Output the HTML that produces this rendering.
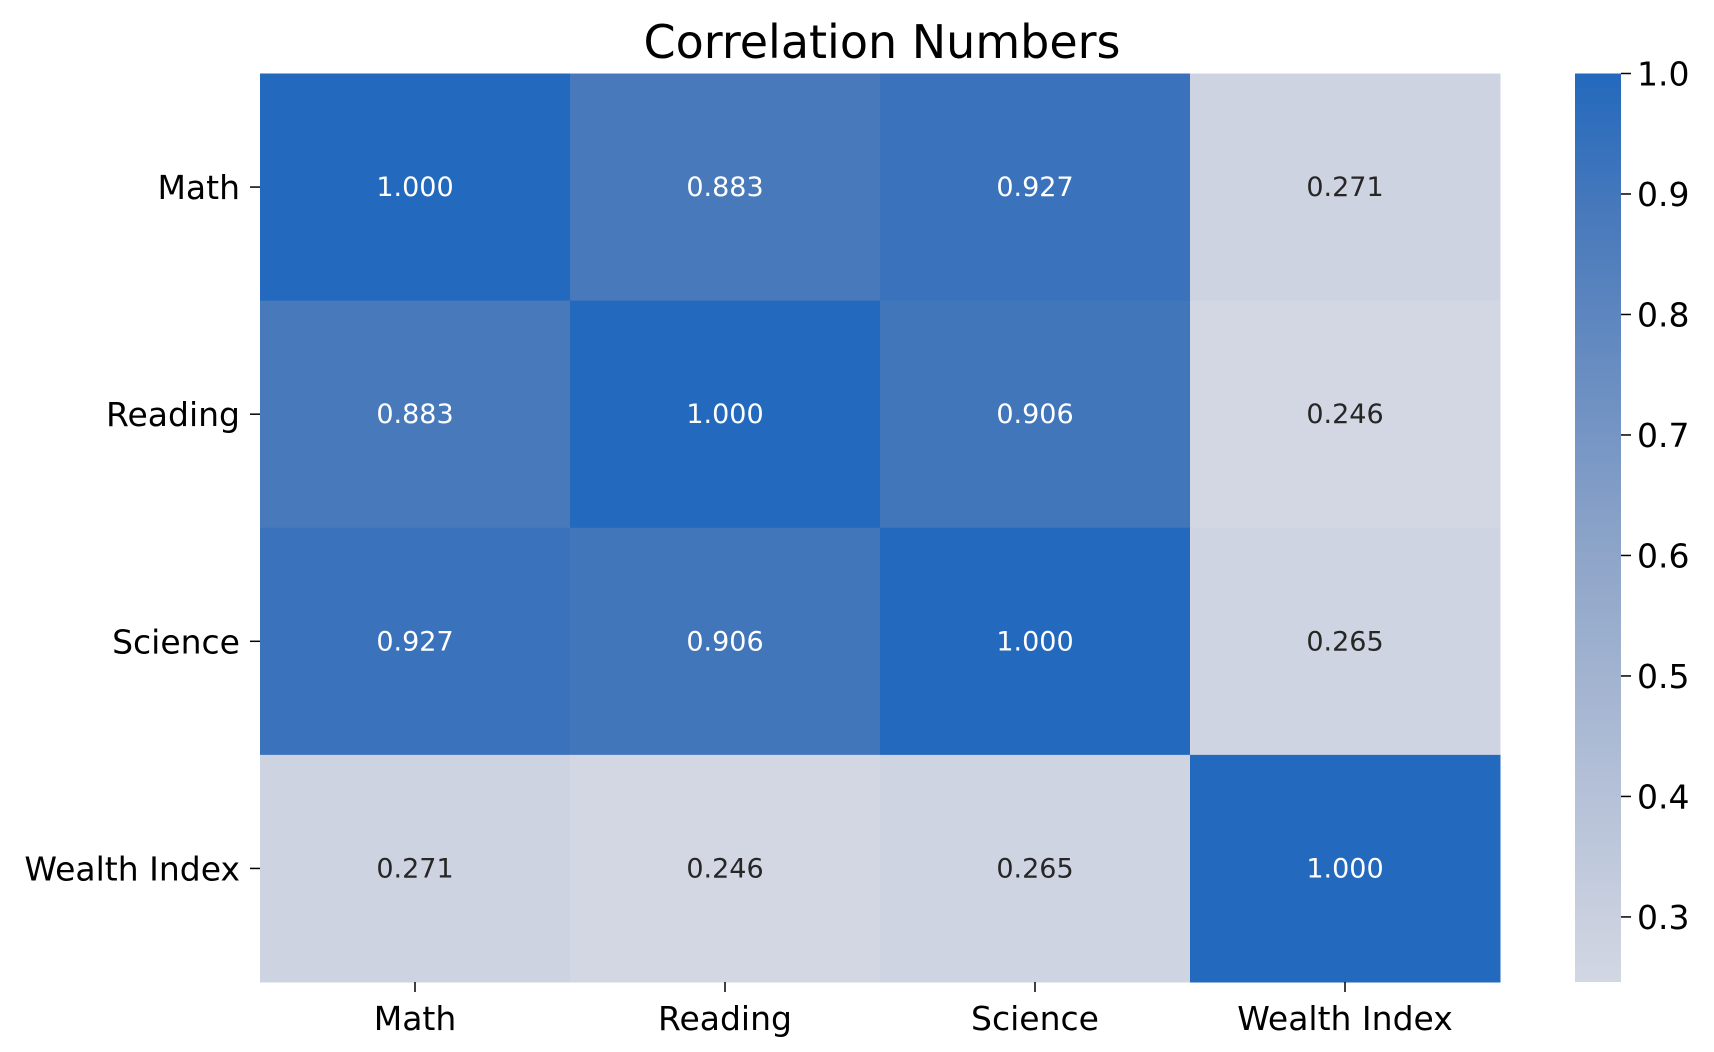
<!DOCTYPE html>
<html><head><meta charset="utf-8"><style>
body{margin:0;background:#fff;}
svg{display:block;font-family:"DejaVu Sans","Liberation Sans",sans-serif;}
</style></head><body>
<svg id="chart" width="1714" height="1052">
<text x="882" y="58" text-anchor="middle" font-size="46" fill="#000">Correlation Numbers</text>
<defs><linearGradient id="cbg" x1="0" y1="1" x2="0" y2="0">
<stop offset="0" stop-color="#d3d7e3"/><stop offset="0.47" stop-color="#8ea5c9"/><stop offset="0.845" stop-color="#4879bb"/><stop offset="1" stop-color="#2369bd"/></linearGradient></defs>
<g id="cells"></g><g id="axes"></g><g id="cbar"></g>
</svg>
<script>
const rowLabels = ["Math","Reading","Science","Wealth Index"];
const colLabels = ["Math","Reading","Science","Wealth Index"];
const row0 = [1.000,0.883,0.927,0.271];
const row1 = [0.883,1.000,0.906,0.246];
const row2 = [0.927,0.906,1.000,0.265];
const row3 = [0.271,0.246,0.265,1.000];
const cbTicks = [0.3,0.4,0.5,0.6,0.7,0.8,0.9,1.0];
const vmin = 0.246, vmax = 1.0;

const NS="http://www.w3.org/2000/svg";
const X0=260,X1=1505-5,Y0=73.5,Y1=982;
const CBX0=1575,CBX1=1621;
const rows=[row0,row1,row2,row3];
const cw=(X1-X0)/colLabels.length, ch=(Y1-Y0)/rowLabels.length;
function xs(i){return X0+i*cw;}
function ys(i){return Y0+i*ch;}
function cy(v){return Y1-(v-vmin)/(vmax-vmin)*(Y1-Y0);}
const stopsT=[0,0.47,0.845,1];
const stopsC=[[0xd3,0xd7,0xe3],[0x8e,0xa5,0xc9],[0x48,0x79,0xbb],[0x23,0x69,0xbd]];
function color(v){
  const t=Math.max(0,Math.min(1,(v-vmin)/(vmax-vmin)));
  let k=0; while(k<stopsT.length-2 && t>stopsT[k+1]) k++;
  const f=(t-stopsT[k])/(stopsT[k+1]-stopsT[k]);
  const a=stopsC[k], b=stopsC[k+1];
  return "rgb("+a.map((c,i)=>Math.round(c+(b[i]-c)*f)).join(",")+")";
}
function mk(tag,attrs,parent,txt){const e=document.createElementNS(NS,tag);for(const k in attrs)e.setAttribute(k,attrs[k]);if(txt!==undefined)e.textContent=txt;parent.appendChild(e);return e;}
const cells=document.getElementById("cells"),axes=document.getElementById("axes"),cbar=document.getElementById("cbar");
rows.forEach((r,i)=>r.forEach((v,j)=>{
  const rc=mk("rect",{x:xs(j),y:ys(i),width:cw+0.5,height:ch+0.5,fill:color(v)},cells);
  
  
  const t=mk("text",{x:xs(j)+cw/2,y:ys(i)+ch/2+9,"text-anchor":"middle","font-size":"27",fill:(v>0.6?"#fff":"#262626")},cells,v.toFixed(3));
  
  
}));
rowLabels.forEach((l,i)=>{
  const y=ys(i)+ch/2;
  mk("line",{x1:X0-10,x2:X0,y1:y,y2:y,stroke:"#000","stroke-width":1.5},axes);
  const t=mk("text",{x:X0-20,y:y+12,"text-anchor":"end","font-size":"33",fill:"#000"},axes,l);
  
  
});
colLabels.forEach((l,j)=>{
  const x=xs(j)+cw/2;
  mk("line",{x1:x,x2:x,y1:Y1,y2:Y1+10,stroke:"#000","stroke-width":1.5},axes);
  const t=mk("text",{x:x,y:Y1+48,"text-anchor":"middle","font-size":"33",fill:"#000"},axes,l);
  
  
});
const cb=mk("rect",{x:CBX0,y:Y0,width:CBX1-CBX0,height:Y1-Y0,fill:"url(#cbg)"},cbar);


cbTicks.forEach(v=>{
  const y=cy(v);
  mk("line",{x1:CBX1,x2:CBX1+10,y1:y,y2:y,stroke:"#000","stroke-width":1.5},cbar);
  const t=mk("text",{x:CBX1+16,y:y+12,"font-size":"33",fill:"#000"},cbar,v.toFixed(1));
  
  
});
</script>
</body></html>
